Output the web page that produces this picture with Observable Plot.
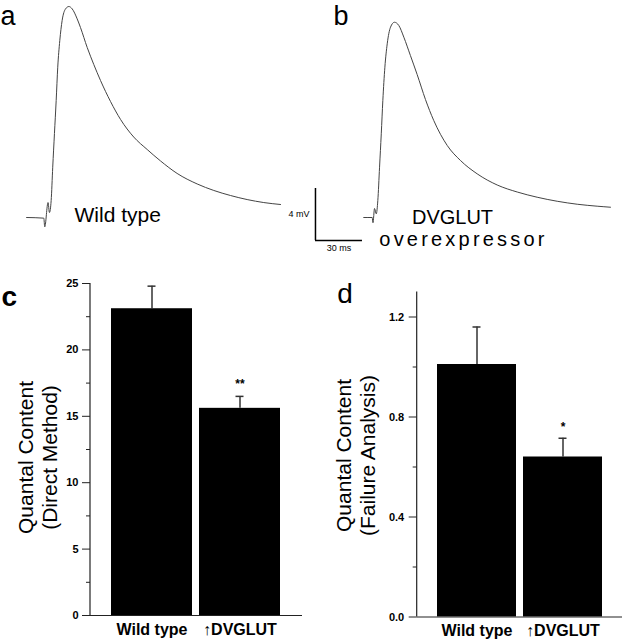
<!DOCTYPE html>
<html><head><meta charset="utf-8">
<script src="https://cdn.jsdelivr.net/npm/d3@7"></script>
<script src="https://cdn.jsdelivr.net/npm/@observablehq/plot@0.6"></script>
<style>
body{margin:0;background:#fff;}
#fig{position:relative;width:623px;height:639px;overflow:hidden;background:#fff;}
#fig > svg{position:absolute;}
</style></head><body><div id="fig"></div>
<script>
// ---- Data ----
// Panel a: wild-type EPSP trace (time in ms from stimulus, membrane potential in mV)
const traceA_t = [-11.0, 0, 0.6, 2.7, 3.6, 4.7, 5.7, 6.8, 7.9, 8.9, 10.2, 11.7, 13.9, 16.0, 18.1, 21.3, 23.4, 27.7, 31.9, 36.2, 42.6, 49.0, 57.4, 66.0, 74.5, 85.1, 97.9, 108.5, 119.2, 129.8, 140.4, 151.1];
const traceA_v = [0.0, -0.05, -0.72, 1.15, 0.38, 1.3, 3.87, 6.46, 9.0, 11.56, 13.6, 15.15, 16.05, 16.23, 16.05, 15.28, 14.62, 13.08, 11.77, 10.54, 8.92, 7.54, 6.19, 5.23, 4.35, 3.39, 2.58, 2.08, 1.69, 1.38, 1.15, 1.0];
// Panel b: DVGLUT overexpressor EPSP trace
const traceB_t = [-5.6, -0.2, 0.3, 1.3, 2.4, 3.4, 4.5, 5.6, 6.6, 7.9, 9.4, 11.5, 14.0, 16.8, 20.0, 24.2, 28.5, 33.8, 39.1, 47.7, 56.2, 66.8, 79.6, 92.4, 105.1, 117.9, 130.7, 143.4, 151.9];
const traceB_v = [0.0, 0.0, -0.4, 0.69, 0.28, 1.31, 3.87, 6.44, 9.0, 11.56, 13.36, 14.64, 15.02, 14.77, 13.87, 12.46, 11.0, 9.08, 7.46, 5.54, 4.38, 3.36, 2.5, 1.96, 1.56, 1.25, 1.02, 0.87, 0.79];
// Scale bar
const scaleBarMs = 30;
const scaleBarMv = 4;

// Panels c, d
const groups = ["Wild type", "\u2191DVGLUT"];
const directMean = [23.1, 15.6];
const directSem = [1.7, 0.9];
const directSig = ["", "**"];
const directTicks = [0, 5, 10, 15, 20, 25];
const directMinorTicks = [2.5, 7.5, 12.5, 17.5, 22.5];

const failureMean = [1.01, 0.64];
const failureSem = [0.15, 0.075];
const failureSig = ["", "*"];
const failureTicks = [0, 0.4, 0.8, 1.2];
const failureMinorTicks = [0.2, 0.6, 1.0];

// ---- Layout ----
const FONT = "Arial, 'Liberation Sans', Helvetica, sans-serif";
const fig = document.getElementById("fig");
function place(svg, left, top) {
  svg.style.left = left + "px";
  svg.style.top = top + "px";
  fig.appendChild(svg);
}
const baseStyle = {fontFamily: FONT, overflow: "visible", background: "transparent", color: "black"};
const label = (opts) => ({text: d => d, lineAnchor: "middle", ...opts});

// trace calibration (pixels per unit)
const pxPerMs = 47 / 30;
const pxPerMv = 52 / 4;
const topH = 262, baselinePx = 217;
const yDomTop = [(baselinePx - topH) / pxPerMv, baselinePx / pxPerMv];
const traceStroke = "#444";

// Panel a
const wA = 311, onsetA = 43.3;
const dataA = traceA_t.map((t, i) => ({t, v: traceA_v[i]}));
place(Plot.plot({
  width: wA, height: topH, margin: 0,
  x: {domain: [-onsetA / pxPerMs, (wA - onsetA) / pxPerMs], axis: null},
  y: {domain: yDomTop, axis: null},
  style: baseStyle,
  marks: [
    Plot.line(dataA, {x: "t", y: "v", stroke: traceStroke, strokeWidth: 1, curve: "monotone-x"}),
    Plot.text(["a"], label({frameAnchor: "top-left", textAnchor: "start", dx: 0, dy: 16, fontSize: 27})),
    Plot.text(["Wild type"], label({frameAnchor: "top-left", textAnchor: "start", dx: 74, dy: 214.5, fontSize: 21}))
  ]
}), 0, 0);

// Panel b
const wB = 312, leftB = 311, onsetB = 372 - leftB;
const dataB = traceB_t.map((t, i) => ({t, v: traceB_v[i]}));
const barT0 = -36.4, barV0 = -1.77;
place(Plot.plot({
  width: wB, height: topH, margin: 0,
  x: {domain: [-onsetB / pxPerMs, (wB - onsetB) / pxPerMs], axis: null},
  y: {domain: yDomTop, axis: null},
  style: baseStyle,
  marks: [
    Plot.line(dataB, {x: "t", y: "v", stroke: traceStroke, strokeWidth: 1, curve: "monotone-x"}),
    Plot.ruleX([barT0], {x: d => d, y1: barV0, y2: barV0 + scaleBarMv, stroke: "black", strokeWidth: 1.5}),
    Plot.ruleY([barV0], {y: d => d, x1: barT0, x2: barT0 + scaleBarMs, stroke: "black", strokeWidth: 1.5}),
    Plot.text([`${scaleBarMv} mV`], label({x: barT0, y: barV0 + scaleBarMv / 2, textAnchor: "end", dx: -6, fontSize: 9})),
    Plot.text([`${scaleBarMs} ms`], label({x: barT0 + scaleBarMs / 2, y: barV0, dy: 8, fontSize: 9})),
    Plot.text(["b"], label({frameAnchor: "top-left", textAnchor: "start", dx: 22, dy: 16, fontSize: 27})),
    Plot.text(["DVGLUT"], label({frameAnchor: "top-left", textAnchor: "middle", dx: 141, dy: 217.5, fontSize: 20})),
    Plot.text(["overexpressor"], label({frameAnchor: "top-left", textAnchor: "middle", dx: 152, dy: 239.5, fontSize: 20}))
  ]
}), leftB, 0);
// widen "overexpressor" as in the reference lettering
d3.select(fig).selectAll("text").filter(function() { return this.textContent === "overexpressor"; })
  .attr("letter-spacing", "3.2px");

// vertical axis line drawn from the plot's own dimensions (left edge of frame)
function axisLine(stroke, width) {
  return function(...args) {
    const dims = args.find(a => a && typeof a === "object" && "marginLeft" in a && "height" in a);
    const g = d3.create("svg:g");
    g.append("line")
      .attr("x1", dims.marginLeft).attr("x2", dims.marginLeft)
      .attr("y1", dims.marginTop).attr("y2", dims.height - dims.marginBottom)
      .attr("stroke", stroke).attr("stroke-width", width);
    return g.node();
  };
}

// Bar panels
function barPanel({mean, sem, sig, ticks, minor, fmt, yMax, title, letter, letterWeight,
                   width, mL, mR, mT, mB, pIn, pOut, titleDx, titleDy, sigDy, letterDx, letterDy, capInset, tickDx}) {
  const data = groups.map((g, i) => ({g, m: mean[i], hi: mean[i] + sem[i], sig: sig[i]}));
  return Plot.plot({
    width, height: 369, marginLeft: mL, marginRight: mR, marginTop: mT, marginBottom: mB,
    x: {domain: groups, paddingInner: pIn, paddingOuter: pOut, label: null, axis: null},
    y: {domain: [0, yMax], label: null},
    style: baseStyle,
    marks: [
      Plot.ruleX(data, {x: "g", y1: "m", y2: "hi", stroke: "#333", strokeWidth: 1.5}),
      Plot.tickY(data, {x: "g", y: "hi", stroke: "#333", strokeWidth: 1.5, insetLeft: capInset, insetRight: capInset}),
      Plot.barY(data, {x: "g", y: "m", fill: "black"}),
      Plot.text(data, {x: "g", y: "hi", text: "sig", dy: sigDy, fontWeight: "bold", fontSize: 12}),
      Plot.axisY({ticks, tickFormat: () => "", tickSize: 8, label: null, stroke: "#222"}),
      Plot.axisY({ticks: minor, tickFormat: () => "", tickSize: 4, label: null, stroke: "#222"}),
      Plot.text(ticks, {y: d => d, text: fmt, frameAnchor: "left", textAnchor: "end", lineAnchor: "middle", dx: tickDx, fontSize: 11, fontWeight: "bold"}),
      axisLine("#222", 1.2),
      Plot.ruleY([0], {stroke: "#222", strokeWidth: 1.2}),
      Plot.text(groups, {x: d => d, text: d => d, frameAnchor: "bottom", lineAnchor: "top", dy: 8, fontSize: 16, fontWeight: "bold"}),
      Plot.text([title], label({frameAnchor: "left", textAnchor: "middle", rotate: -90, dx: titleDx, dy: titleDy, fontSize: 21, lineHeight: 1.15})),
      Plot.text([letter], label({frameAnchor: "top-left", textAnchor: "start", dx: letterDx, dy: letterDy, fontSize: 28, fontWeight: letterWeight}))
    ]
  });
}

place(barPanel({
  mean: directMean, sem: directSem, sig: directSig, ticks: directTicks, minor: directMinorTicks,
  fmt: d3.format("d"), yMax: 25, title: "Quantal Content\n(Direct Method)", letter: "c", letterWeight: "bold",
  width: 320, mL: 90, mR: 18, mT: 13, mB: 24, pIn: 0.079, pOut: 0.237,
  titleDx: -53, titleDy: 8, sigDy: -12, letterDx: -89, letterDy: 14, capInset: 36.5, tickDx: -12
}), 0, 270);

place(barPanel({
  mean: failureMean, sem: failureSem, sig: failureSig, ticks: failureTicks, minor: failureMinorTicks,
  fmt: d3.format(".1f"), yMax: 1.3, title: "Quantal Content\n(Failure Analysis)", letter: "d", letterWeight: "normal",
  width: 303, mL: 96.7, mR: 1, mT: 21.5, mB: 22.5, pIn: 0.087, pOut: 0.225,
  titleDx: -62, titleDy: 1, sigDy: -11, letterDx: -80, letterDy: 2, capInset: 35.5, tickDx: -13
}), 320, 270);
</script>
</body></html>
